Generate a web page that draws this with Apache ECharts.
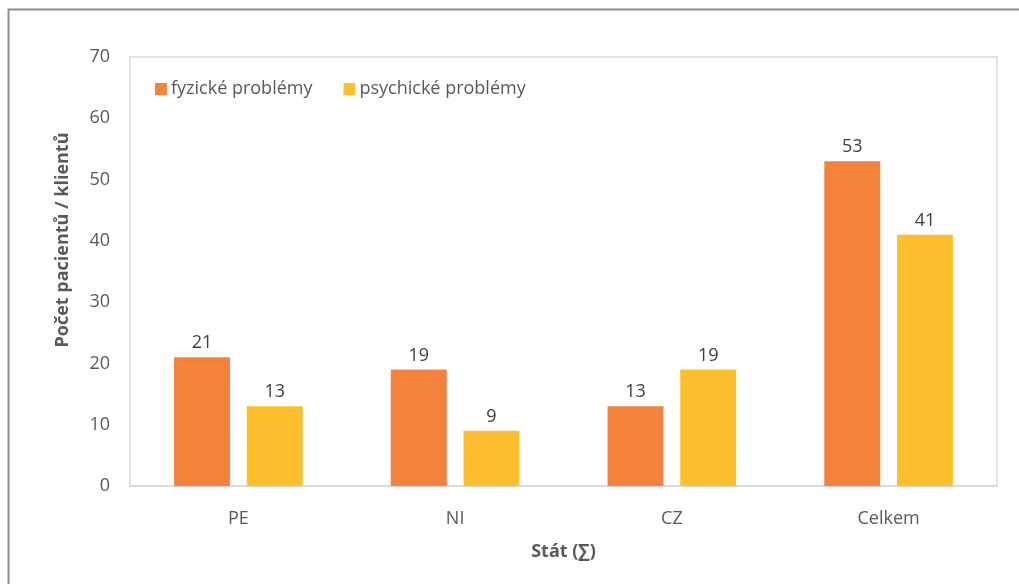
<!DOCTYPE html>
<html>
<head>
<meta charset="utf-8">
<script src="https://cdn.jsdelivr.net/npm/echarts@6/dist/echarts.min.js"></script>
<style>
  html, body { margin: 0; padding: 0; background: #fff; }
  #chart { width: 1019px; height: 584px; }
</style>
</head>
<body>
<div id="chart"></div>
<script>
const categories = ["PE", "NI", "CZ", "Celkem"];
const fyzicke = [21, 19, 13, 53];
const psychicke = [13, 9, 19, 41];
const seriesNames = ["fyzické problémy", "psychické problémy"];
const yTitle = "Počet pacientů / klientů";
const xTitle = "Stát (∑)";

const textColor = "#595959";
const font = "'Open Sans', 'Noto Sans', sans-serif";

const chart = echarts.init(document.getElementById("chart"));

const labelStyle = {
  show: true,
  position: "top",
  distance: 5,
  color: "#404040",
  fontSize: 18,
  fontFamily: font
};

chart.setOption({
  animation: false,
  textStyle: { fontFamily: font },
  graphic: [
    {
      type: "rect",
      shape: { x: 8.5, y: 9.5, width: 1100, height: 700 },
      style: { fill: "none", stroke: "#8c8c8c", lineWidth: 2 },
      silent: true
    },
    {
      // y axis title sits above the axis middle in the original
      type: "text",
      x: 63,
      y: 240,
      rotation: Math.PI / 2,
      style: {
        text: yTitle,
        fill: textColor,
        font: "bold 18px " + font,
        textAlign: "center",
        textVerticalAlign: "middle"
      },
      silent: true
    }
  ],
  legend: {
    left: 150,
    top: 75,
    itemWidth: 12,
    itemHeight: 12,
    itemGap: 31,
    icon: "rect",
    textStyle: { color: textColor, fontSize: 18, fontFamily: font, padding: [0, 0, 0, -1] },
    data: seriesNames
  },
  grid: {
    left: 130,
    right: 22,
    top: 57,
    bottom: 98,
    show: true,
    borderColor: "#d9d9d9",
    borderWidth: 1.5
  },
  xAxis: {
    type: "category",
    data: categories,
    name: xTitle,
    nameLocation: "middle",
    nameGap: 57,
    nameTextStyle: { color: textColor, fontSize: 18, fontWeight: "bold", fontFamily: font },
    axisLine: { show: true, lineStyle: { color: "#d9d9d9", width: 1.5 } },
    axisTick: { show: false },
    axisLabel: { color: textColor, fontSize: 18, margin: 24, fontFamily: font }
  },
  yAxis: {
    type: "value",
    min: 0,
    max: 70,
    interval: 10,
    axisLine: { show: false },
    axisTick: { show: false },
    splitLine: { show: false },
    axisLabel: { color: textColor, fontSize: 18, margin: 20, fontFamily: font }
  },
  series: [
    {
      name: seriesNames[0],
      type: "bar",
      data: fyzicke,
      barWidth: "25.8%",
      barGap: "30%",
      itemStyle: { color: "#f4823c" },
      label: labelStyle
    },
    {
      name: seriesNames[1],
      type: "bar",
      data: psychicke,
      barWidth: "25.8%",
      itemStyle: { color: "#fdbf2d" },
      label: labelStyle
    }
  ]
});
</script>
</body>
</html>
